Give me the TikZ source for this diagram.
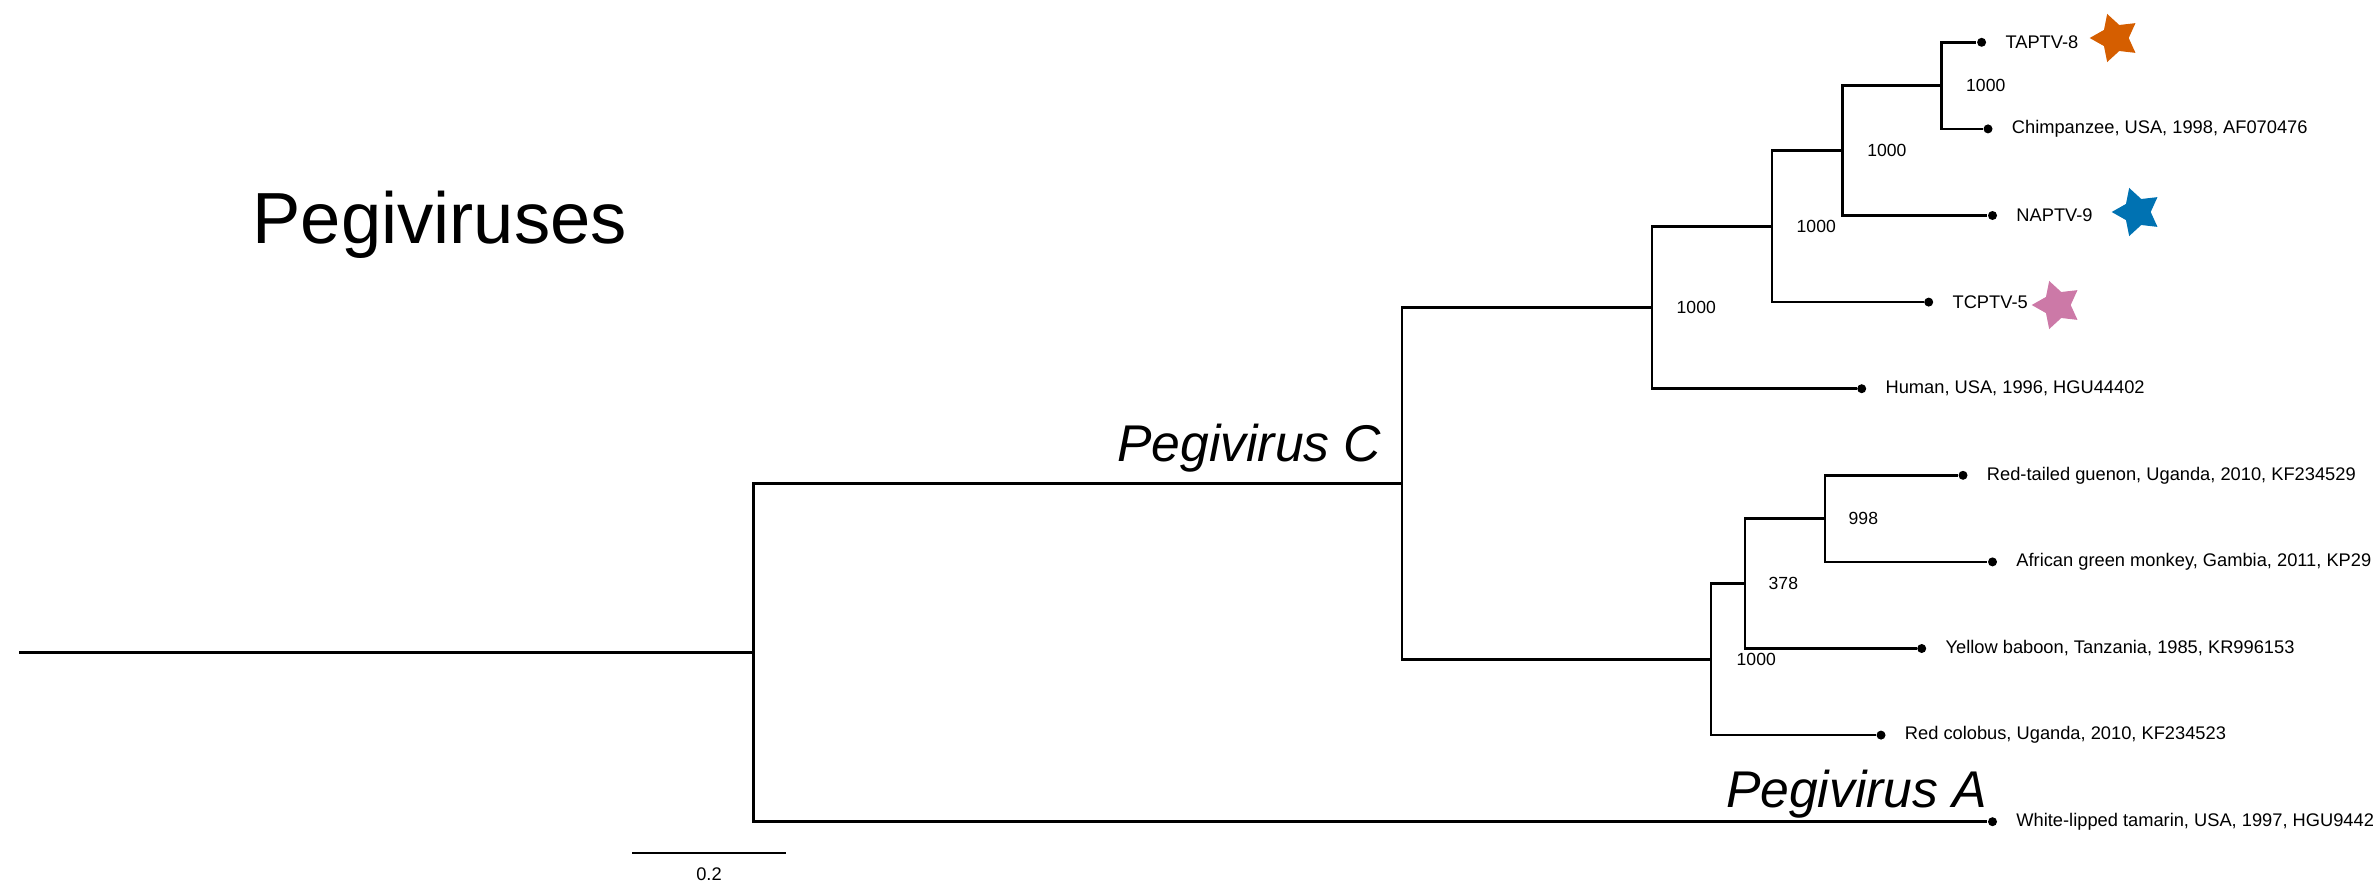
\documentclass[tikz,border=0pt]{standalone}
\usepackage{fontspec}
\setmainfont{Liberation Sans}
\usetikzlibrary{positioning,shapes.geometric}
\definecolor{vermil}{HTML}{D55E00}
\definecolor{okblue}{HTML}{0072B2}
\definecolor{okpink}{HTML}{CC79A7}

\begin{document}
\begin{tikzpicture}[
  x=0.1mm, y=-0.1mm,
  node distance=1.8mm,
  branch/.style={line width=0.75pt},
  tipdot/.style={circle, fill=black, inner sep=0, minimum size=0.9mm},
  taxon/.style={inner sep=0, font=\fontsize{5.2}{6}\selectfont},
  boot/.style={inner sep=0, font=\fontsize{5}{6}\selectfont},
  clade/.style={inner sep=0, font=\fontsize{14.7}{17}\selectfont\itshape},
  virstar/.style={star, star points=5, star point ratio=1.85,
    shape border rotate=90, inner sep=0, minimum size=5.06mm}
]
\useasboundingbox (0,0) rectangle (2376,894);

% Title
\node[inner sep=0, anchor=base west, font=\fontsize{20.6}{24}\selectfont] (title) at (252,243.5) {Pegiviruses};

% Tips
\node[tipdot] (taptv) at (1981.6,42.3) {};
\node[tipdot] (chimp) at (1988,128.9) {};
\node[tipdot] (naptv) at (1992.5,215.5) {};
\node[tipdot] (tcptv) at (1928.7,302.1) {};
\node[tipdot] (human) at (1861.7,388.7) {};
\node[tipdot] (guenon) at (1963,475.3) {};
\node[tipdot] (agm) at (1992.5,561.9) {};
\node[tipdot] (baboon) at (1921.7,648.5) {};
\node[tipdot] (colobus) at (1881,735.1) {};
\node[tipdot] (tamarin) at (1992.5,821.7) {};

\node[taxon, right=of taptv] (taptvlab) {TAPTV-8};
\node[taxon, right=of chimp] (chimplab) {Chimpanzee, USA, 1998, AF070476};
\node[taxon, right=of naptv] (naptvlab) {NAPTV-9};
\node[taxon, right=of tcptv] (tcptvlab) {TCPTV-5};
\node[taxon, right=of human] (humanlab) {Human, USA, 1996, HGU44402};
\node[taxon, right=of guenon] (guenonlab) {Red-tailed guenon, Uganda, 2010, KF234529};
\node[taxon, right=of agm] (agmlab) {African green monkey, Gambia, 2011, KP29};
\node[taxon, right=of baboon] (baboonlab) {Yellow baboon, Tanzania, 1985, KR996153};
\node[taxon, right=of colobus] (coloblab) {Red colobus, Uganda, 2010, KF234523};
\node[taxon, right=of tamarin] (tamarinlab) {White-lipped tamarin, USA, 1997, HGU9442};

% Stars
\node[virstar, fill=vermil] (star8) at (2115,38) {};
\node[virstar, fill=okblue] (star9) at (2137,212) {};
\node[virstar, fill=okpink] (star5) at (2057,305) {};

% Internal nodes
\coordinate (n1) at (1941.5,85.6);
\coordinate (n2) at (1842.6,150.55);
\coordinate (n3) at (1772,226.3);
\coordinate (n4) at (1652,307.5);
\coordinate (n5) at (1825,518.6);
\coordinate (n6) at (1745,583.55);
\coordinate (n7) at (1711,659.3);
\coordinate (n8) at (1402,483.4);
\coordinate (root) at (753.3,652.55);
\coordinate (stem) at (19,652.55);

% Branches
\draw[branch] (n1) |- (taptv);
\draw[branch] (n1) |- (chimp);
\draw[branch] (n2) |- (n1);
\draw[branch] (n2) |- (naptv);
\draw[branch] (n3) |- (n2);
\draw[branch] (n3) |- (tcptv);
\draw[branch] (n4) |- (n3);
\draw[branch] (n4) |- (human);
\draw[branch] (n5) |- (guenon);
\draw[branch] (n5) |- (agm);
\draw[branch] (n6) |- (n5);
\draw[branch] (n6) |- (baboon);
\draw[branch] (n7) |- (n6);
\draw[branch] (n7) |- (colobus);
\draw[branch] (n8) |- (n4);
\draw[branch] (n8) |- (n7);
\draw[branch] (root) |- (n8);
\draw[branch] (root) |- (tamarin);
\draw[branch] (stem) -- (root);

% Support values
\node[boot, right=2.4mm of n1] (b1) {1000};
\node[boot, right=2.4mm of n2] (b2) {1000};
\node[boot, right=2.4mm of n3] (b3) {1000};
\node[boot, right=2.4mm of n4] (b4) {1000};
\node[boot, right=2.3mm of n5] (b5) {998};
\node[boot, right=2.3mm of n6] (b6) {378};
\node[boot, right=2.5mm of n7] (b7) {1000};

% Clade names
\node[clade, anchor=base east] (pegc) at (1382,461.7) {Pegivirus C};
\node[clade, anchor=base east] (pega) at (1988,807.7) {Pegivirus A};

% Scale bar
\coordinate (sbl) at (632,853);
\coordinate (sbr) at (786,853);
\draw[branch] (sbl) -- (sbr);
\node[taxon] (sblab) at (709,874) {0.2};

\end{tikzpicture}
\end{document}
